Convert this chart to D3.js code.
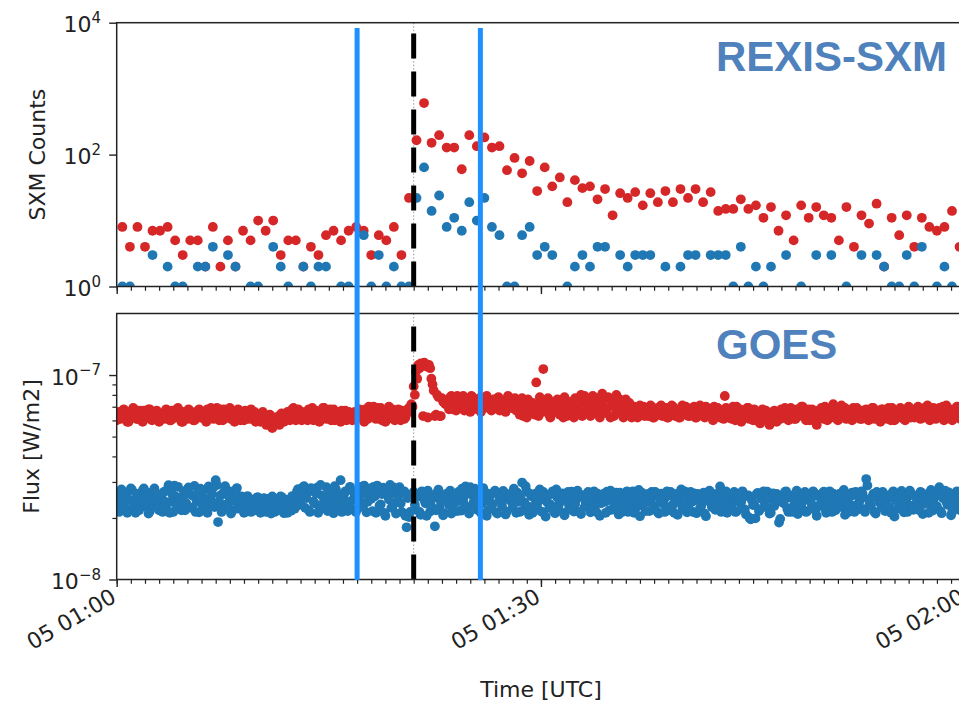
<!DOCTYPE html>
<html><head><meta charset="utf-8">
<script src="https://cdn.jsdelivr.net/npm/d3@7"></script>
<style>body{margin:0;background:#fff}svg text{font-family:"DejaVu Sans",sans-serif}</style>
</head><body><svg id="c" width="959" height="702" xmlns="http://www.w3.org/2000/svg"></svg>
<script>
// ---------------- data ----------------
const DAY = "2020-01-05";
const xDomain = ["01:00:00", "02:00:00"];
const xMajorTicks = ["01:00:00", "01:30:00", "02:00:00"];

// REXIS-SXM counts (32 s bins starting 01:00:24)
const sxmStart = "01:00:24";
const sxmCadenceSec = 32;
const sxmRed = [8,4,8,4,7,7,8,5,3,5,
  5,2,8,2,5,2,7,5,10,7,
  10,3,5,5,2,4,3,6,7,5,
  7,8,7,3,6,5,8,3,22,165,
  605,151,197,128,128,60,197,134,182,128,
  134,58,89,52,80,28,64,33,45,19,
  41,31,33,21,30,12,26,22,27,17,
  26,19,28,19,30,22,30,19,27,14,
  15,15,21,15,17,11,16,7,12,5,
  17,11,16,12,11,5,16,4,12,9,
  18,2,11,6,12,4,11,8,7,8,
  14,4];
const sxmBlue = [1,1,0,0,3,0,2,1,1,0,
  2,2,4,0,3,2,0,1,1,0,
  4,2,1,0,2,1,2,2,0,1,
  1,0,6,1,3,1,2,1,1,22,
  64,14,24,8,11,7,19,10,22,8,
  6,1,1,6,8,3,4,3,0,1,
  2,3,2,4,4,0,3,2,3,3,
  3,0,2,0,2,3,3,0,3,3,
  3,1,4,1,2,1,2,0,3,0,
  1,0,3,0,3,0,1,0,3,0,
  3,2,1,1,3,1,4,0,1,2,
  1,0];

// GOES flux: two interleaved 10 s sample sets (A from 01:00:00, B from 01:00:05)
const goesCadenceSec = 10;
const goesStartA = "01:00:00";
const goesStartB = "01:00:05";
// long channel, units of 1e-9 W/m2
const goesRedA = [
  60,66,63,68,62,59,65,69,64,61,67,59,66,62,68,60,63,67,59,65,
  61,68,64,60,66,62,69,63,59,65,61,67,63,60,66,68,62,64,59,67,
  69,61,65,62,68,60,66,63,69,64,59,62,67,63,60,66,61,68,64,59,
  63,59,66,61,58,64,55,60,62,57,65,59,61,66,63,69,60,68,64,62,
  66,60,63,69,62,65,59,67,69,61,64,60,68,62,66,59,63,67,61,65,
  60,66,63,68,62,59,65,70,64,70,61,67,69,63,59,66,62,68,60,65,63,67,61,66,69,72,
  88,104,112,114,63,113,62,108,90,63,80,63,77,74,
  75,68,79,71,67,76,72,79,70,74,66,78,72,68,77,75,69,79,73,67,76,71,78,68,74,66,79,72,70,77,
  72,64,77,68,62,74,66,71,92,63,75,107,69,77,62,73,66,76,64,71,78,63,69,74,62,72,67,80,65,75,
  70,63,79,67,74,62,81,69,65,77,71,63,80,68,73,62,76,66,71,64,
  68,62,71,65,63,69,66,70,62,67,64,71,65,69,62,68,70,63,66,62,71,65,68,63,67,70,62,66,64,69,
  70,63,67,60,65,69,62,66,79,64,68,61,66,70,63,59,67,62,69,64,60,66,63,58,68,61,65,57,62,67,
  59,65,68,62,66,60,69,63,61,67,64,70,62,66,60,68,63,57,65,69,61,67,64,62,72,66,60,68,63,69,
  62,67,60,65,69,63,61,66,68,60,64,69,62,66,59,68,64,61,67,69,60,65,63,68,61,66,70,62,64,67,
  70,61,66,63,71,60,65,68,62,69,64,60,71,66,62,68,63,70,61,67];
const goesRedB = [
  64,61,67,63,59,66,62,68,61,65,60,67,63,68,61,64,66,60,64,62,
  65,63,60,67,62,68,64,59,66,62,68,63,60,65,67,62,64,61,68,63,
  66,63,69,60,64,68,62,65,61,66,63,68,60,64,67,62,65,61,66,63,
  60,65,62,57,63,59,57,62,58,64,61,63,66,60,68,64,62,67,60,65,
  62,68,65,60,67,61,64,69,62,66,68,63,60,65,61,67,64,60,66,62,
  64,61,67,62,66,68,61,63,67,62,69,64,60,66,63,70,65,61,64,68,60,65,62,68,66,70,
  80,96,108,112,115,110,112,96,84,64,78,63,74,72,
  72,78,68,75,79,70,74,67,76,72,79,69,75,71,66,73,78,70,74,68,72,77,67,75,70,73,78,69,74,67,
  68,75,63,72,76,69,73,64,70,78,66,72,74,64,70,67,75,69,72,62,67,74,70,64,77,68,73,63,79,70,
  74,66,72,77,64,70,75,68,78,62,73,69,66,76,64,71,68,73,62,70,
  64,69,66,70,67,63,71,62,68,65,70,63,69,62,66,71,64,68,62,67,65,70,63,66,69,62,68,71,65,62,
  66,68,62,70,63,67,65,61,69,62,65,70,60,64,68,62,64,69,61,66,68,62,59,65,61,67,59,64,66,60,
  64,61,66,69,62,67,64,61,68,63,70,65,60,68,63,66,59,67,62,64,70,60,66,69,62,68,64,71,66,61,
  67,64,69,62,65,61,67,64,62,66,69,61,67,63,68,62,64,69,60,65,67,62,69,64,60,67,63,68,62,66,
  64,68,62,70,66,63,69,61,67,65,70,62,64,68,60,66,70,63,66,62];
// short channel, units of 1e-10 W/m2
const goesBlueA = [
  250,214,276,232,262,220,279,240,212,256,235,272,228,266,215,245,279,236,218,258,
  268,222,289,240,214,255,284,232,246,218,276,262,225,287,240,213,271,250,229,285,
  244,282,306,191,258,220,286,233,270,217,248,280,226,255,212,238,250,214,244,229,
  252,212,236,219,248,230,255,214,241,226,253,211,246,233,217,251,228,277,240,283,
  224,266,214,272,236,281,219,258,243,283,227,265,211,276,249,306,232,270,216,284,
  244,261,222,279,236,288,213,262,248,284,212,270,233,281,205,256,290,226,265,240,283,214,270,180,202,258,
  268,220,255,207,264,236,272,215,249,182,266,224,258,211,
  263,231,210,255,240,268,217,246,285,226,283,259,278,219,262,236,270,205,251,229,266,213,258,241,271,208,247,262,225,255,
  266,214,298,238,270,207,255,228,264,219,247,268,203,259,233,270,211,252,241,264,206,257,226,269,215,246,262,209,254,237,
  268,213,250,231,263,205,257,240,269,218,249,226,266,208,255,236,262,214,247,270,221,258,204,265,238,251,216,268,229,257,
  210,263,242,254,218,268,232,249,207,261,226,270,213,255,239,264,211,250,229,266,204,258,237,262,219,247,285,228,266,212,
  256,234,268,215,249,240,263,208,258,197,231,199,265,221,253,238,269,210,247,229,262,190,255,236,270,214,251,227,264,209,
  257,240,268,216,250,231,264,205,259,238,269,212,248,227,263,218,255,242,267,207,252,233,266,214,258,239,270,221,310,246,
  229,262,210,255,237,268,216,249,226,264,203,258,241,271,213,250,232,265,219,256,244,268,209,252,235,266,217,259,228,283,211,254,240,267,206,251,233,262,218,257];
const goesBlueB = [
  238,268,222,255,212,245,274,230,262,218,250,279,240,210,258,232,266,224,248,214,
  240,276,212,262,288,230,250,218,270,236,282,224,256,214,265,278,230,246,212,272,
  262,226,290,240,214,268,232,255,210,242,274,222,248,236,214,256,228,246,218,252,
  240,224,250,214,232,210,246,236,218,255,228,244,212,238,256,222,270,232,262,286,
  250,218,280,240,264,212,290,232,256,216,270,244,286,230,258,214,262,240,276,222,
  268,214,252,284,226,262,240,278,216,255,288,230,262,212,274,246,224,282,210,256,236,268,205,250,214,262,
  232,258,214,270,245,205,262,228,256,218,275,240,206,250,
  244,272,222,260,216,250,278,232,262,210,270,240,226,256,212,280,244,218,262,234,272,210,250,228,266,215,255,240,278,212,
  240,258,218,286,228,262,212,248,236,276,214,255,240,224,262,215,276,230,256,212,242,268,220,250,234,272,214,258,226,262,
  242,226,270,214,250,236,262,212,244,272,220,256,232,266,214,248,270,226,256,212,240,274,230,250,216,262,240,222,268,214,
  248,236,214,270,226,256,212,262,240,276,220,250,232,268,214,245,262,224,256,210,244,272,226,255,238,266,214,250,270,232,
  222,262,214,250,236,270,220,256,200,244,232,262,216,248,270,226,256,212,264,236,250,198,240,268,222,256,214,246,272,230,
  226,262,214,250,240,270,218,256,232,264,222,244,270,214,252,236,262,226,274,240,214,256,230,268,220,248,262,214,288,236,
  252,214,268,240,226,262,232,256,212,270,244,222,262,236,250,214,272,228,256,240,218,266,234,250,212,274,242,226,260,216,250,272,232,262,214,246,270,228,256,240];

const windowLines = ["01:17:00", "01:25:43"];
const flareLine = "01:21:00";
const topYTicks = [1, 100, 10000];
const botYTicks = [1e-8, 1e-7];
const botYMinor = [2e-8, 3e-8, 4e-8, 5e-8, 6e-8, 7e-8, 8e-8, 9e-8];
const panelTitles = ["REXIS-SXM", "GOES"];
const yLabels = ["SXM Counts", "Flux [W/m2]"];
const xLabel = "Time [UTC]";

// ---------------- drawing ----------------
const t = s => new Date(`${DAY}T${s}Z`);
const RED = "#d62728", BLUE = "#1f77b4", TITLE = "#4f81bd", VLINE = "#1e90ff";
const X0 = 116.7, X1 = 965.2;
const P1 = {y0: 22.7, y1: 286.5}, P2 = {y0: 313.5, y1: 579.5};
const svg = d3.select("#c");
svg.append("rect").attr("width", 959).attr("height", 702).attr("fill", "#fff");

const x = d3.scaleUtc().domain(xDomain.map(t)).range([X0, X1]);
const yT = d3.scaleLog().domain([1, 1e4]).range([P1.y1, P1.y0]);
const yB = d3.scaleLog().domain([1e-8, 2e-7]).range([P2.y1, P2.y0]);

const defs = svg.append("defs");
[["clipT", P1], ["clipB", P2]].forEach(([id, p]) => {
  defs.append("clipPath").attr("id", id).append("rect")
    .attr("x", X0).attr("y", p.y0).attr("width", X1 - X0).attr("height", p.y1 - p.y0);
});

const R = 4.9;
const sxmTime = i => d3.utcSecond.offset(t(sxmStart), i * sxmCadenceSec);
const goesTime = (start, i) => d3.utcSecond.offset(t(start), i * goesCadenceSec);

function panelBase(p, clip) {
  const g = svg.append("g").attr("clip-path", `url(#${clip})`);
  g.append("line").attr("x1", x(t(flareLine))).attr("x2", x(t(flareLine)))
    .attr("y1", p.y0).attr("y2", p.y1).attr("stroke", "#999").attr("stroke-width", 1)
    .attr("stroke-dasharray", "1.5,2");
  return g;
}

// top panel points
const gT = panelBase(P1, "clipT");
gT.append("g").selectAll("circle").data(sxmRed.map((v, i) => ({v, i})).filter(d => d.v > 0))
  .join("circle").attr("cx", d => x(sxmTime(d.i))).attr("cy", d => yT(d.v)).attr("r", R).attr("fill", RED);
gT.append("g").selectAll("circle").data(sxmBlue.map((v, i) => ({v, i})).filter(d => d.v > 0))
  .join("circle").attr("cx", d => x(sxmTime(d.i))).attr("cy", d => yT(d.v)).attr("r", R).attr("fill", BLUE);

// bottom panel points
const gB = panelBase(P2, "clipB");
function goesDots(arr, start, unit, color) {
  gB.append("g").selectAll("circle").data(arr.map((v, i) => ({v: v * unit, i})))
    .join("circle").attr("cx", d => x(goesTime(start, d.i))).attr("cy", d => yB(d.v))
    .attr("r", R).attr("fill", color);
}
goesDots(goesRedA, goesStartA, 1e-9, RED);
goesDots(goesRedB, goesStartB, 1e-9, RED);
goesDots(goesBlueA, goesStartA, 1e-10, BLUE);
goesDots(goesBlueB, goesStartB, 1e-10, BLUE);

// flare dashed line in each panel (dash pattern starts at the bottom)
[[gT, P1], [gB, P2]].forEach(([g, p]) => {
  g.append("line").attr("x1", x(t(flareLine))).attr("x2", x(t(flareLine)))
    .attr("y1", p.y1).attr("y2", p.y0).attr("stroke", "#000").attr("stroke-width", 5)
    .attr("stroke-dasharray", "25,13");
});

// axes
function xAxes(p) {
  svg.append("g").attr("transform", `translate(0,${p.y1})`)
    .call(d3.axisBottom(x).ticks(d3.utcMinute.every(1)).tickSize(4.3).tickSizeOuter(0).tickFormat(""))
    .call(g => g.select(".domain").remove())
    .call(g => g.selectAll("line").attr("stroke", "#222").attr("stroke-width", 1.2));
  svg.append("g").attr("transform", `translate(0,${p.y1})`)
    .call(d3.axisBottom(x).tickValues(xMajorTicks.map(t)).tickSize(7.5).tickSizeOuter(0).tickFormat(""))
    .call(g => g.select(".domain").remove())
    .call(g => g.selectAll("line").attr("stroke", "#222").attr("stroke-width", 1.4));
}
xAxes(P1); xAxes(P2);

svg.append("g").attr("transform", `translate(${X0},0)`)
  .call(d3.axisLeft(yT).tickValues(topYTicks).tickSize(7.5).tickSizeOuter(0).tickFormat(""))
  .call(g => g.select(".domain").remove())
  .call(g => g.selectAll("line").attr("stroke", "#222").attr("stroke-width", 1.4));
svg.append("g").attr("transform", `translate(${X0},0)`)
  .call(d3.axisLeft(yB).tickValues(botYTicks).tickSize(7.5).tickSizeOuter(0).tickFormat(""))
  .call(g => g.select(".domain").remove())
  .call(g => g.selectAll("line").attr("stroke", "#222").attr("stroke-width", 1.4));
svg.append("g").attr("transform", `translate(${X0},0)`)
  .call(d3.axisLeft(yB).tickValues(botYMinor).tickSize(4.3).tickSizeOuter(0).tickFormat(""))
  .call(g => g.select(".domain").remove())
  .call(g => g.selectAll("line").attr("stroke", "#222").attr("stroke-width", 1.2));

// y tick labels with superscripts
function yLabelsFor(vals, scale) {
  vals.forEach(v => {
    const e = Math.round(Math.log10(v));
    const txt = svg.append("text").attr("x", 101).attr("y", scale(v) + 9.5)
      .attr("text-anchor", "end").attr("font-size", 22).attr("fill", "#222");
    txt.append("tspan").text("10");
    txt.append("tspan").attr("font-size", 15).attr("dy", -9.5).text(e < 0 ? "\u2212" + (-e) : String(e));
  });
}
yLabelsFor(topYTicks, yT);
yLabelsFor(botYTicks, yB);

// x tick labels (bottom panel)
const fmt = d3.utcFormat("%d %H:%M");
xMajorTicks.map(t).forEach(d => {
  const px = x(d) + 1, py = 601;
  svg.append("text").attr("x", px).attr("y", py).attr("text-anchor", "end")
    .attr("font-size", 22).attr("fill", "#222")
    .attr("transform", `rotate(-30,${px},${py})`).text(fmt(d));
});

// spines
[P1, P2].forEach(p => {
  svg.append("rect").attr("x", X0).attr("y", p.y0).attr("width", X1 - X0).attr("height", p.y1 - p.y0)
    .attr("fill", "none").attr("stroke", "#222").attr("stroke-width", 1.5);
});

// window lines spanning both panels
windowLines.forEach(s => {
  svg.append("line").attr("x1", x(t(s))).attr("x2", x(t(s))).attr("y1", 28).attr("y2", 580)
    .attr("stroke", VLINE).attr("stroke-width", 5);
});

// titles
svg.append("text").attr("x", 716).attr("y", 71).attr("font-size", 42).attr("font-weight", "bold")
  .style("font-family", "'Liberation Sans', Arial, sans-serif").attr("fill", TITLE).text(panelTitles[0]);
svg.append("text").attr("x", 716).attr("y", 359).attr("font-size", 42).attr("font-weight", "bold")
  .style("font-family", "'Liberation Sans', Arial, sans-serif").attr("fill", TITLE).text(panelTitles[1]);

// axis labels
svg.append("text").attr("transform", `translate(45,${(P1.y0 + P1.y1) / 2}) rotate(-90)`)
  .attr("text-anchor", "middle").attr("font-size", 22).attr("fill", "#222").text(yLabels[0]);
svg.append("text").attr("transform", `translate(39,${(P2.y0 + P2.y1) / 2}) rotate(-90)`)
  .attr("text-anchor", "middle").attr("font-size", 22).attr("fill", "#222").text(yLabels[1]);
svg.append("text").attr("x", (X0 + X1) / 2).attr("y", 697).attr("text-anchor", "middle")
  .attr("font-size", 22).attr("fill", "#222").text(xLabel);
</script></body></html>
